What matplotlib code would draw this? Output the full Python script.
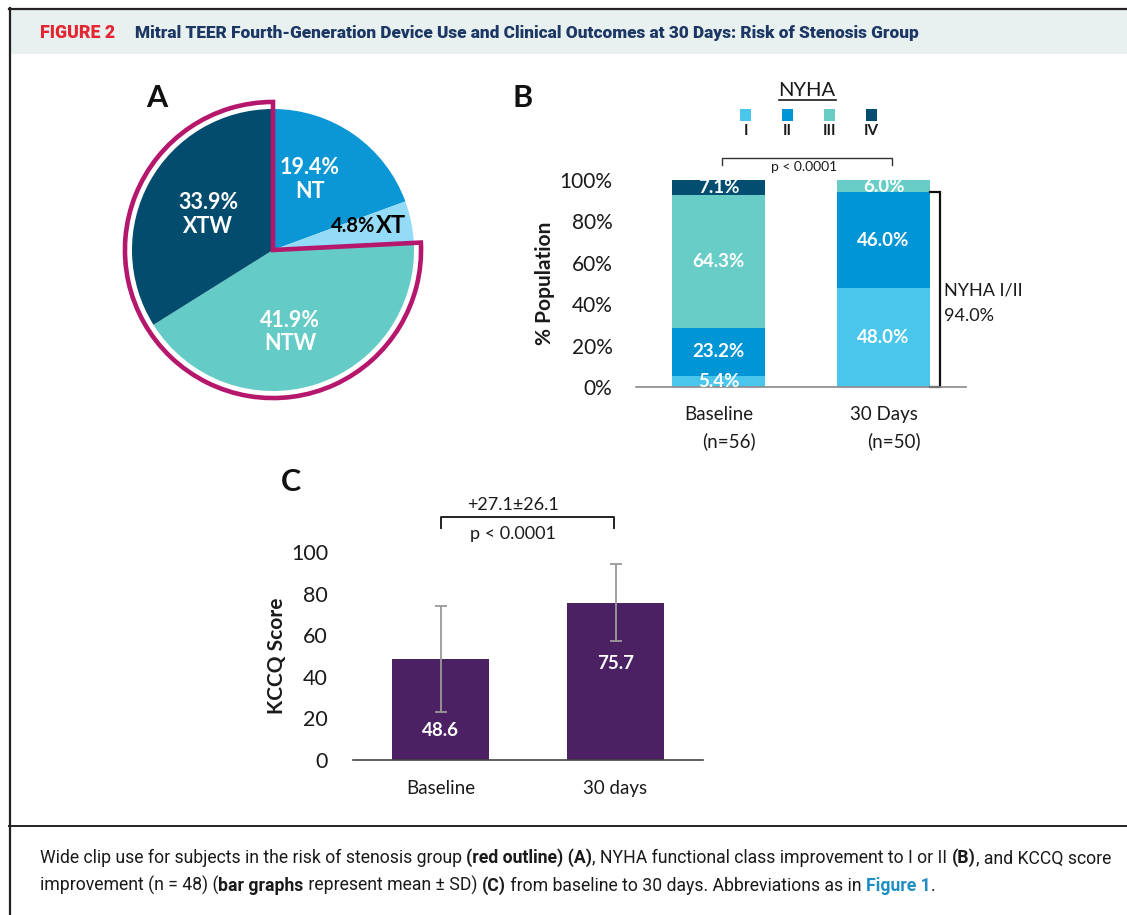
import matplotlib
matplotlib.use("Agg")
import matplotlib.pyplot as plt
from matplotlib.patches import Rectangle, Wedge
from matplotlib.lines import Line2D

W, H = 1127, 915

# ---- data ----
pie_labels = ["NT", "XT", "NTW", "XTW"]
pie_vals = [19.4, 4.8, 41.9, 33.9]
pie_colors = ["#0b96d5", "#93dbf7", "#64cbc7", "#034c6e"]
stenosis_groups = ["NTW", "XTW"]  # red outline

nyha_classes = ["I", "II", "III", "IV"]
nyha_colors = ["#4ac6ec", "#0096d6", "#67cdc6", "#024d70"]
nyha_timepoints = ["Baseline", "30 Days"]
nyha_n = ["(n=56)", "(n=50)"]
nyha_baseline = [5.4, 23.2, 64.3, 7.1]
nyha_30d = [48.0, 46.0, 6.0, 0.0]
nyha_12_30d = 94.0

kccq_labels = ["Baseline", "30 days"]
kccq_mean = [48.6, 75.7]
kccq_sd = [25.3, 18.5]
kccq_label_y = [14.4, 46.6]

CH = "Lato"
NARROW = ["Roboto", "DejaVu Sans"]
plt.rcParams["font.family"] = [CH, "DejaVu Sans"]
TXT = "#1a1a1a"


def fx(px):
    return px / W


def fy(py):
    return 1 - py / H


def box(left, top, right, bottom):
    return [fx(left), fy(bottom), (right - left) / W, (bottom - top) / H]


fig = plt.figure(figsize=(W / 100, H / 100), dpi=100)
fig.patch.set_facecolor("white")

# frame, header band, caption separator
fig.add_artist(Rectangle((fx(10), fy(54)), 1, (54 - 9) / H, transform=fig.transFigure,
                         facecolor="#e8f1f0", edgecolor="none", zorder=0))
fig.add_artist(Line2D([fx(9), 1], [fy(8.5), fy(8.5)], transform=fig.transFigure, color="#222", lw=1.6))
fig.add_artist(Line2D([fx(9.5), fx(9.5)], [fy(8), 0], transform=fig.transFigure, color="#222", lw=1.6))
fig.add_artist(Line2D([fx(9), 1], [fy(826), fy(826)], transform=fig.transFigure, color="#222", lw=1.4))

fig.text(fx(40), fy(33), "FIGURE 2", color="#e42532", fontsize=12.8, fontweight="heavy",
         family=NARROW, va="center")
fig.text(fx(135), fy(33), "Mitral TEER Fourth-Generation Device Use and Clinical Outcomes at 30 Days: Risk of Stenosis Group",
         color="#1c3764", fontsize=12.45, fontweight="heavy", family=NARROW, va="center")

# panel letters
fig.text(fx(157), fy(98), "A", fontsize=22, fontweight="bold", ha="center", va="center", color="#111")
fig.text(fx(523), fy(98), "B", fontsize=22, fontweight="bold", ha="center", va="center", color="#111")
fig.text(fx(291), fy(482), "C", fontsize=22, fontweight="bold", ha="center", va="center", color="#111")

# ---- A: pie ----
axA = fig.add_axes(box(113, 90, 433, 410))
axA.pie(pie_vals, colors=pie_colors, startangle=90, counterclock=False, radius=1.0,
        wedgeprops=dict(linewidth=0))
lim = 160 / 141
axA.set_xlim(-lim, lim)
axA.set_ylim(-lim, lim)
axA.set_aspect("equal")
axA.axis("off")
outlined = sum(v for l, v in zip(pie_labels, pie_vals) if l in stenosis_groups)
axA.add_patch(Wedge((0, 0), 1.05, 90, 90 + outlined * 3.6, fill=False,
                    edgecolor="#b5176d", lw=3.3, joinstyle="miter"))
lab_kw = dict(color="white", fontsize=15.5, fontweight="bold", ha="center", va="center", linespacing=1.15)
axA.text(0.26, 0.5, f"{pie_vals[0]}%\n{pie_labels[0]}", **lab_kw)
axA.text(-0.46, 0.25, f"{pie_vals[3]}%\n{pie_labels[3]}", **lab_kw)
axA.text(0.12, -0.58, f"{pie_vals[2]}%\n{pie_labels[2]}", **lab_kw)
axA.text(0.725, 0.17, f"{pie_vals[1]}%", color="black", fontsize=14.5, fontweight="bold",
         ha="right", va="center")
axA.text(0.73, 0.175, pie_labels[1], color="black", fontsize=17, fontweight="bold",
         ha="left", va="center")

# ---- B: NYHA stacked bars ----
axB = fig.add_axes(box(636, 180, 966, 387))
xs = [0, 1]
stacks = list(zip(nyha_baseline, nyha_30d))
bottoms = [0.0, 0.0]
for k, cls in enumerate(nyha_classes):
    vals = stacks[k]
    axB.bar(xs, vals, width=0.56, bottom=bottoms, color=nyha_colors[k], linewidth=0, zorder=2)
    for i in range(2):
        if vals[i] > 0:
            axB.text(xs[i], bottoms[i] + vals[i] / 2, f"{vals[i]:.1f}%", color="white",
                     fontsize=13.5, fontweight="bold", ha="center", va="center", zorder=3)
    bottoms = [bottoms[i] + vals[i] for i in range(2)]
axB.set_xlim(-0.5, 1.5)
axB.set_ylim(0, 100)
axB.set_yticks(range(0, 101, 20))
axB.set_yticklabels([f"{v}%" for v in range(0, 101, 20)])
axB.tick_params(axis="y", length=0, labelsize=15, labelcolor=TXT, pad=17)
axB.set_xticks([])
for s in ["top", "right", "left"]:
    axB.spines[s].set_visible(False)
axB.spines["bottom"].set_color("#8a8a8a")
axB.spines["bottom"].set_linewidth(1.2)
axB.set_ylabel("% Population", fontsize=15, fontweight="bold", color=TXT, labelpad=3)
for i, (lab, n) in enumerate(zip(nyha_timepoints, nyha_n)):
    axB.text(xs[i], -13.5, lab, fontsize=13.5, ha="center", va="center", color=TXT, clip_on=False)
    axB.text(xs[i] + 0.065, -26, n, fontsize=13.5, ha="center", va="center", color=TXT, clip_on=False)
# p-value bracket
axB.plot([0.02, 0.02, 1.05, 1.05], [107.2, 110.6, 110.6, 107.2], color="#333", lw=1.0, clip_on=False)
axB.text(0.52, 109.2, "p < 0.0001", fontsize=10, ha="center", va="top", color=TXT, clip_on=False)
# NYHA I/II bracket
axB.plot([1.28, 1.341, 1.341, 1.28], [nyha_12_30d, nyha_12_30d, 0, 0], color="#111", lw=1.6,
         clip_on=False, solid_joinstyle="miter")
axB.text(1.366, 46.5, "NYHA I/II", fontsize=13, ha="left", va="center", color=TXT, clip_on=False)
axB.text(1.366, 34.2, f"{nyha_12_30d:.1f}%", fontsize=13, ha="left", va="center", color=TXT, clip_on=False)

# NYHA legend
fig.text(fx(807), fy(90), "NYHA", fontsize=14.5, ha="center", va="center", color=TXT)
fig.add_artist(Line2D([fx(779), fx(836)], [fy(100), fy(100)], transform=fig.transFigure, color=TXT, lw=1.2))
for cx, cls, col in zip([746, 787, 829, 871], nyha_classes, nyha_colors):
    fig.add_artist(Rectangle((fx(cx - 5.5), fy(120.5)), 11 / W, 11 / H, transform=fig.transFigure,
                             facecolor=col, edgecolor="none"))
    fig.text(fx(cx), fy(131), cls, fontsize=11, fontweight="bold", ha="center", va="center", color=TXT)

# ---- C: KCCQ ----
axC = fig.add_axes(box(353, 552, 703, 760))
axC.bar(xs, kccq_mean, width=0.55, color="#4b2163", linewidth=0, zorder=2)
axC.errorbar(xs, kccq_mean, yerr=kccq_sd, fmt="none", ecolor="#9a9a9a", elinewidth=1.3,
             capsize=4, capthick=1.3, zorder=3)
for i in range(2):
    axC.text(xs[i], kccq_label_y[i], f"{kccq_mean[i]:.1f}", color="white", fontsize=13.5,
             fontweight="bold", ha="center", va="center", zorder=4)
axC.set_xlim(-0.5, 1.5)
axC.set_ylim(0, 100)
axC.set_yticks(range(0, 101, 20))
axC.tick_params(axis="y", length=0, labelsize=15.5, labelcolor=TXT, pad=18)
axC.set_xticks([])
for s in ["top", "right", "left"]:
    axC.spines[s].set_visible(False)
axC.spines["bottom"].set_color("#444")
axC.spines["bottom"].set_linewidth(1.2)
axC.set_ylabel("KCCQ Score", fontsize=15, fontweight="bold", color=TXT, labelpad=3)
for i, lab in enumerate(kccq_labels):
    axC.text(xs[i], -13.5, lab, fontsize=13.5, ha="center", va="center", color=TXT, clip_on=False)
axC.plot([0, 0, 0.99, 0.99], [111.5, 116.8, 116.8, 111.5], color="#222", lw=1.4, clip_on=False)
axC.text(0.415, 122.6, "+27.1\u00b126.1", fontsize=13, ha="center", va="center", color=TXT, clip_on=False)
axC.text(0.415, 108.5, "p < 0.0001", fontsize=13, ha="center", va="center", color=TXT, clip_on=False)

# ---- caption with mixed styles ----
renderer = fig.canvas.get_renderer()
BLUE = "#1f8ec4"


def piece_width(txt, size, weight):
    a = fig.text(0, 0, txt + "|", fontsize=size, fontweight=weight, family=NARROW)
    b = fig.text(0, 0, "|", fontsize=size, fontweight=weight, family=NARROW)
    w = a.get_window_extent(renderer).width - b.get_window_extent(renderer).width
    a.remove()
    b.remove()
    return w


def rich_line(x0, y0, parts, size):
    x = x0
    for txt, weight, color in parts:
        fig.text(fx(x), fy(y0), txt, fontsize=size, fontweight=weight, color=color,
                 family=NARROW, va="baseline")
        x += piece_width(txt, size, weight)


line1 = [("Wide clip use for subjects in the risk of stenosis group ", "normal", TXT),
         ("(red outline) (A)", "bold", TXT),
         (", NYHA functional class improvement to I or II ", "normal", TXT),
         ("(B)", "bold", TXT),
         (", and KCCQ score", "normal", TXT)]
line2 = [("improvement (n = 48) (", "normal", TXT),
         ("bar graphs", "bold", TXT),
         (" represent mean \u00b1 SD) ", "normal", TXT),
         ("(C)", "bold", TXT),
         (" from baseline to 30 days. Abbreviations as in ", "normal", TXT),
         ("Figure 1", "bold", BLUE),
         (".", "normal", TXT)]
rich_line(40, 863, line1, 12.7)
rich_line(40, 891, line2, 12.7)

fig.savefig("out.png", dpi=100, facecolor="white")
